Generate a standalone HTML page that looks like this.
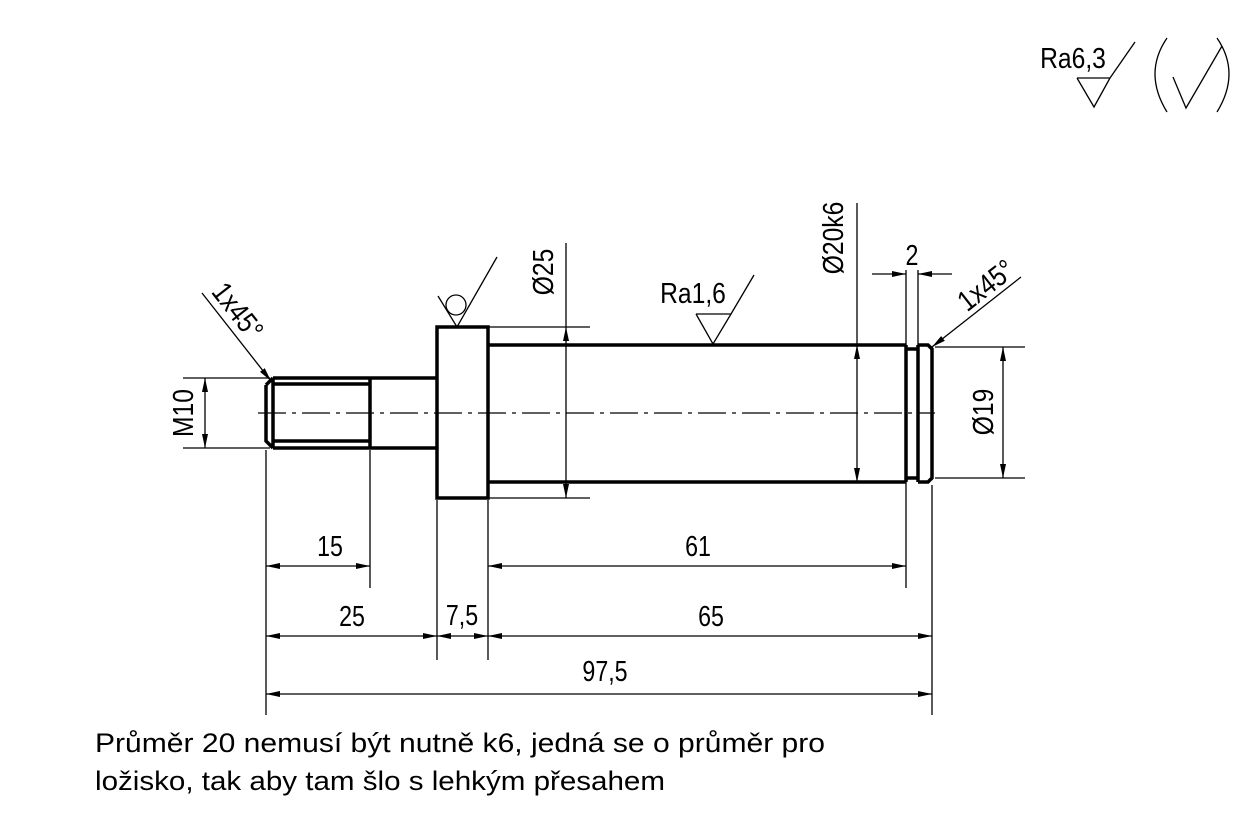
<!DOCTYPE html>
<html><head><meta charset="utf-8"><style>html,body{margin:0;padding:0;background:#fff}svg{display:block}</style></head><body>
<svg width="1243" height="840" viewBox="0 0 1243 840" xmlns="http://www.w3.org/2000/svg" font-family="'Liberation Sans', 'DejaVu Sans', sans-serif">
<defs>
<marker id="a" viewBox="0 0 14 6" refX="14" refY="3" markerWidth="14" markerHeight="6" markerUnits="userSpaceOnUse" orient="auto-start-reverse"><path d="M0,0L14,3L0,6z" fill="#000"/></marker>
</defs>
<g fill="none" stroke="#000" stroke-width="3.5">
<path d="M273,378H437M273,448H437M266,385V441L273,448M266,385L273,378M273,378V448"/>
<path d="M273,384H370M273,441H370M370,378V448"/>
<rect x="437" y="327" width="51" height="171"/>
<path d="M488,345H906M488,482H906M906,345V482"/>
<path d="M906,349H918M906,478H918M918,345V482M918,345H928L932,349V478L928,482H918"/>
</g>
<g fill="none" stroke="#000" stroke-width="1.3">
<path d="M258,413H935" stroke-dasharray="28,6,4,6"/>
<path d="M183,378H270M183,448H270M488,327H590M488,498H590M935,347H1025M935,478H1025"/>
<path d="M266,450V715M370,450V588M437,500V660M488,500V660M906,290V588M918,270V345M932,485V715M906,270V345"/>
<path d="M205,378V448" marker-start="url(#a)" marker-end="url(#a)"/>
<path d="M566,243V327"/>
<path d="M566,327V498" marker-start="url(#a)" marker-end="url(#a)"/>
<path d="M857,203V345"/>
<path d="M857,345V482" marker-start="url(#a)" marker-end="url(#a)"/>
<path d="M1003,347V478" marker-start="url(#a)" marker-end="url(#a)"/>
<path d="M872,274H906" marker-end="url(#a)"/>
<path d="M952,274H918" marker-end="url(#a)"/>
<path d="M266,566H370" marker-start="url(#a)" marker-end="url(#a)"/>
<path d="M488,566H906" marker-start="url(#a)" marker-end="url(#a)"/>
<path d="M266,636H437" marker-start="url(#a)" marker-end="url(#a)"/>
<path d="M437,636H488" marker-start="url(#a)" marker-end="url(#a)"/>
<path d="M488,636H932" marker-start="url(#a)" marker-end="url(#a)"/>
<path d="M266,694H932" marker-start="url(#a)" marker-end="url(#a)"/>
<path d="M202,293L271,381" marker-end="url(#a)"/>
<path d="M1021,277L932,347" marker-end="url(#a)"/>
<path d="M438,296L457,327L497,257"/>
<circle cx="456" cy="305" r="10"/>
<path d="M696,314H731L713,344L696,314M731,314L754,275"/>
<path d="M1077,78H1110L1094,107L1077,78M1110,78L1135,42"/>
<path d="M1167,38Q1143,73 1167,112M1217,38Q1241,73 1217,112M1173,77L1186,108L1222,46"/>
</g>
<g font-size="29" fill="#000" text-anchor="middle">
<text x="330" y="556" transform="translate(330 556) scale(0.8 1) translate(-330 -556)">15</text>
<text x="698" y="556" transform="translate(698 556) scale(0.8 1) translate(-698 -556)">61</text>
<text x="352" y="626" transform="translate(352 626) scale(0.8 1) translate(-352 -626)">25</text>
<text x="462" y="625" transform="translate(462 625) scale(0.8 1) translate(-462 -625)">7,5</text>
<text x="711" y="626" transform="translate(711 626) scale(0.8 1) translate(-711 -626)">65</text>
<text x="605" y="681" transform="translate(605 681) scale(0.8 1) translate(-605 -681)">97,5</text>
<text x="912" y="265" transform="translate(912 265) scale(0.8 1) translate(-912 -265)">2</text>
<text transform="translate(193 413) rotate(-90) scale(0.85 1)">M10</text>
<text transform="translate(553 272) rotate(-90) scale(0.85 1)">Ø25</text>
<text transform="translate(843 238) rotate(-90) scale(0.85 1)">Ø20k6</text>
<text transform="translate(993 412) rotate(-90) scale(0.85 1)">Ø19</text>
<text transform="translate(230 317) rotate(52) scale(0.85 1)">1x45°</text>
<text transform="translate(992 293) rotate(-38) scale(0.85 1)">1x45°</text>
<text x="693" y="303" transform="translate(693 303) scale(0.85 1) translate(-693 -303)">Ra1,6</text>
<text x="1073" y="68" transform="translate(1073 68) scale(0.85 1) translate(-1073 -68)">Ra6,3</text>
</g>
<g font-size="27" fill="#000">
<text x="95" y="752" textLength="730" lengthAdjust="spacingAndGlyphs">Průměr 20 nemusí být nutně k6, jedná se o průměr pro</text>
<text x="95" y="790" textLength="570" lengthAdjust="spacingAndGlyphs">ložisko, tak aby tam šlo s lehkým přesahem</text>
</g>
</svg>
</body></html>
